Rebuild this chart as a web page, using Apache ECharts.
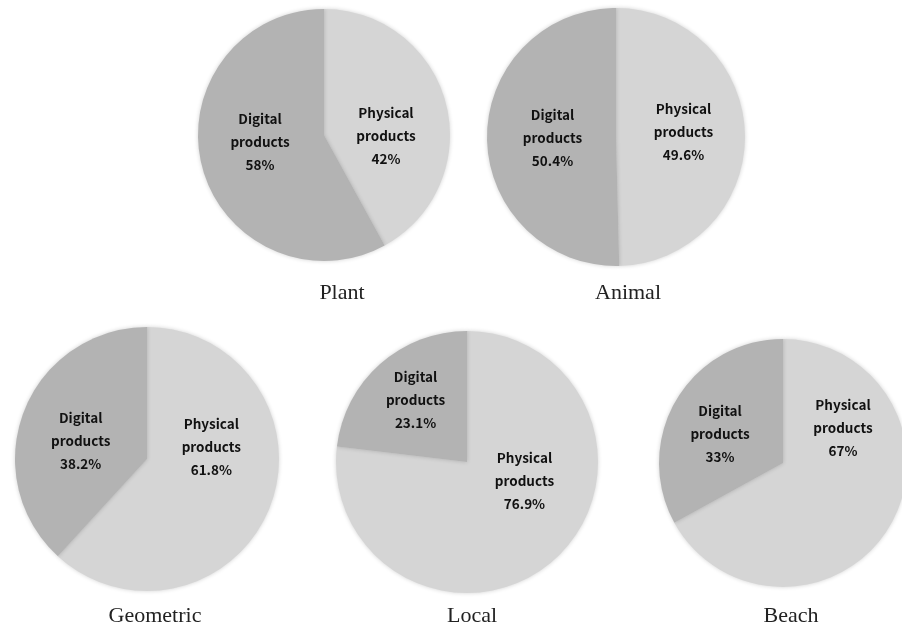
<!DOCTYPE html>
<html>
<head>
<meta charset="utf-8">
<script src="https://cdn.jsdelivr.net/npm/echarts@6/dist/echarts.min.js"></script>
<style>
html,body{margin:0;padding:0;background:#fff;}
#c{width:902px;height:627px;}
</style>
</head>
<body>
<div id="c"></div>
<script>
// Data
const groups = ['Plant', 'Animal', 'Geometric', 'Local', 'Beach'];
const sliceNames = ['Physical\nproducts', 'Digital\nproducts'];
const physicalPct = [42, 49.6, 61.8, 76.9, 67];
const digitalPct = [58, 50.4, 38.2, 23.1, 33];

// Layout / style (not data)
const centers = [[324, 135], [616, 137], [147, 459], [467, 462], [783, 463]];
const radii = [126, 129, 132, 131, 124];
const titlePos = [[337, 277], [623, 277], [150, 600], [467, 600], [786, 600]];
const labelShift = [
  [[-2, 17], [0, -10]],
  [[0, -4], [4, 0]],
  [[0, -37], [-2, 7]],
  [[12, -32], [-6, -11]],
  [[4, -68], [-7, 4]]
];
const colors = ['#d5d5d5', '#b3b3b3'];

const chart = echarts.init(document.getElementById('c'), null, {renderer: 'canvas'});

const series = groups.map((g, i) => ({
  type: 'pie',
  center: centers[i],
  radius: radii[i],
  startAngle: 90,
  clockwise: true,
  silent: true,
  animation: false,
  data: [
    {name: sliceNames[0], value: physicalPct[i], itemStyle: {color: colors[0]}},
    {name: sliceNames[1], value: digitalPct[i], itemStyle: {color: colors[1]}}
  ],
  itemStyle: {
    borderWidth: 0,
    shadowBlur: 4,
    shadowColor: 'rgba(0,0,0,0.18)'
  },
  label: {
    show: true,
    position: 'inside',
    formatter: p => p.name + '\n' + p.value + '%',
    fontFamily: '"Noto Sans CJK KR", "Noto Sans", sans-serif',
    fontWeight: 'bold',
    fontSize: 13.5,
    lineHeight: 23,
    color: '#111',
    align: 'center'
  },
  labelLine: {show: false},
  labelLayout: function (params) {
    const s = labelShift[i][params.dataIndex];
    return {dx: s[0], dy: s[1]};
  }
}));

const titles = groups.map((g, i) => ({
  text: g,
  left: titlePos[i][0],
  top: titlePos[i][1],
  textAlign: 'center',
  textStyle: {
    fontFamily: '"Liberation Serif", "DejaVu Serif", serif',
    fontWeight: 'normal',
    fontSize: 22,
    color: '#222'
  }
}));

chart.setOption({
  backgroundColor: '#ffffff',
  animation: false,
  title: titles,
  series: series
});
</script>
</body>
</html>
